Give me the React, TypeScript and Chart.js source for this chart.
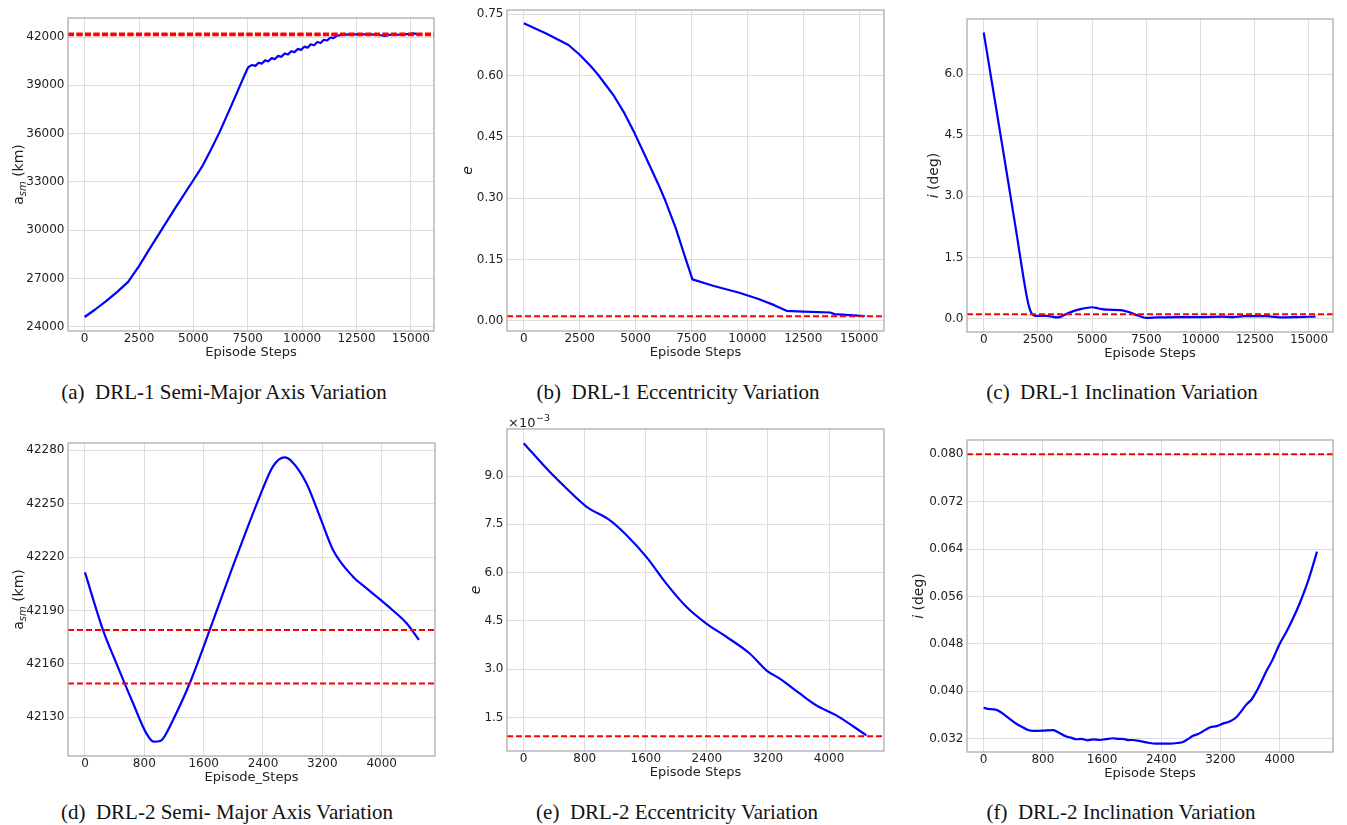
import React, { useEffect, useRef } from "react";
import { Chart, registerables } from "chart.js";

Chart.register(...registerables);

// ---------- (a) DRL-1 semi-major axis ----------
const stepsA = [0, 500, 1000, 1500, 2000, 2500, 3000, 3521, 4200, 4945, 5400, 5800, 6200, 6700, 7149, 7500,
  7560, 7700, 7850, 8000, 8150, 8300, 8450, 8600, 8750, 8900, 9050, 9200, 9350, 9500, 9650, 9800, 9950,
  10100, 10250, 10400, 10550, 10700, 10850, 11000, 11150, 11300, 11450, 11600, 11750, 12000, 12500, 13000,
  13500, 13800, 14000, 14500, 15000, 15100, 15300];
const smaA = [24620, 25100, 25620, 26180, 26800, 27780, 28880, 30000, 31450, 33000, 33950, 34980, 36080, 37600, 39000, 40080,
  40160, 40260, 40210, 40400, 40350, 40550, 40490, 40690, 40630, 40830, 40770, 40980, 40910, 41120, 41060, 41260, 41200,
  41400, 41340, 41550, 41490, 41690, 41630, 41830, 41780, 41970, 41930, 42080, 42120, 42150, 42160, 42160,
  42140, 42060, 42130, 42150, 42200, 42230, 42180];
const thrA = [42149, 42179];

// ---------- (b) DRL-1 eccentricity ----------
const stepsB = [0, 1000, 2000, 2500, 3000, 3324, 4000, 4500, 4964, 5500, 6000, 6300, 6800, 7200, 7543,
  8500, 9600, 10500, 11200, 11750, 12500, 13700, 13900, 15250];
const eccB = [0.728, 0.703, 0.675, 0.651, 0.623, 0.602, 0.553, 0.508, 0.458, 0.395, 0.336, 0.298, 0.226, 0.158, 0.101,
  0.085, 0.069, 0.053, 0.038, 0.024, 0.022, 0.020, 0.016, 0.011];
const thrB = [0.011];

// ---------- (c) DRL-1 inclination ----------
const stepsC = [0, 500, 1000, 1500, 1900, 2050, 2200, 2400, 2900, 3400, 3900, 4500, 5000, 5300, 5700, 6300,
  6700, 7100, 7500, 8000, 9000, 10000, 11000, 11500, 12000, 13000, 13800, 14500, 15300];
const incC = [7.02, 5.40, 3.78, 2.14, 0.80, 0.38, 0.14, 0.07, 0.07, 0.03, 0.14, 0.24, 0.28, 0.25, 0.22, 0.21,
  0.16, 0.08, 0.02, 0.03, 0.04, 0.04, 0.05, 0.04, 0.06, 0.06, 0.03, 0.04, 0.05];
const thrC = [0.11];

// ---------- (d) DRL-2 semi-major axis ----------
const stepsD = [0, 243, 422, 647, 827, 926, 1016, 1052, 1187, 1411, 1681, 1996, 2355, 2535, 2692, 2782,
  2984, 3164, 3344, 3613, 3793, 4153, 4333, 4503];
const smaD = [42211.4, 42179, 42160.4, 42138, 42121, 42116.3, 42116.7, 42118, 42128.5, 42149, 42179, 42215,
  42254, 42271, 42276, 42274, 42261.6, 42243, 42224, 42209, 42202.6, 42190, 42183, 42173.5];
const thrD = [42149, 42179];

// ---------- (e) DRL-2 eccentricity ----------
const stepsE = [0, 341, 559, 821, 1127, 1345, 1607, 1869, 2131, 2393, 2655, 2961, 3179, 3354, 3616, 3834, 4096, 4489];
const eccE = [0.01002, 0.00913, 0.00862, 0.00805, 0.00763, 0.00717, 0.00649, 0.00566, 0.00494, 0.00442, 0.00401,
  0.00349, 0.00297, 0.00271, 0.00225, 0.00188, 0.00157, 0.00095];
const thrE = [0.00092];

// ---------- (f) DRL-2 inclination ----------
const stepsF = [0, 60, 126, 180, 216, 260, 351, 440, 532, 600, 667, 800, 937, 1000, 1117, 1180, 1252, 1320, 1400,
  1480, 1568, 1650, 1748, 1820, 1900, 1960, 2018, 2100, 2200, 2333, 2514, 2620, 2694, 2760, 2829, 2900, 2960, 3054,
  3150, 3250, 3324, 3414, 3480, 3550, 3620, 3685, 3760, 3820, 3900, 4000, 4090, 4180, 4270, 4360, 4430, 4505];
const incF = [0.03722, 0.03700, 0.03693, 0.03680, 0.03658, 0.03620, 0.03532, 0.03450, 0.03388, 0.03345, 0.03331,
  0.03335, 0.03343, 0.03310, 0.03234, 0.03215, 0.03188, 0.03195, 0.03170, 0.03185, 0.03176, 0.03190, 0.03205,
  0.03195, 0.03190, 0.03175, 0.03176, 0.03160, 0.03135, 0.03113, 0.03113, 0.03125, 0.03142, 0.03190, 0.03246,
  0.03275, 0.03320, 0.03388, 0.03410, 0.03460, 0.03486, 0.03560, 0.03660, 0.03773, 0.03860, 0.03992, 0.04180,
  0.04336, 0.04520, 0.04796, 0.05000, 0.05226, 0.05480, 0.05772, 0.06040, 0.06357];
const thrF = [0.08];

// ---------- ticks ----------
const xTicksLong = [0, 2500, 5000, 7500, 10000, 12500, 15000];
const xTicksShort = [0, 800, 1600, 2400, 3200, 4000];
const yTicksA = [24000, 27000, 30000, 33000, 36000, 39000, 42000];
const yTicksB = [0, 0.15, 0.3, 0.45, 0.6, 0.75];
const yTicksC = [0, 1.5, 3, 4.5, 6];
const yTicksD = [42130, 42160, 42190, 42220, 42250, 42280];
const yTicksE = [0.0015, 0.003, 0.0045, 0.006, 0.0075, 0.009];
const yTicksF = [0.032, 0.04, 0.048, 0.056, 0.064, 0.072, 0.08];

const captions = [
  "(a)  DRL-1 Semi-Major Axis Variation",
  "(b)  DRL-1 Eccentricity Variation",
  "(c)  DRL-1 Inclination Variation",
  "(d)  DRL-2 Semi- Major Axis Variation",
  "(e)  DRL-2 Eccentricity Variation",
  "(f)  DRL-2 Inclination Variation",
];

type Part = { t: string; italic?: boolean; sub?: boolean };

const smaTitle: Part[] = [{ t: "a" }, { t: "sm", italic: true, sub: true }, { t: " (km)" }];
const eTitle: Part[] = [{ t: "e", italic: true }];
const iTitle: Part[] = [{ t: "i", italic: true }, { t: " (deg)" }];

const FONT = '"DejaVu Sans", sans-serif';

interface Cfg {
  L: number; T: number; R: number; B: number;
  xMin: number; xMax: number; yMin: number; yMax: number;
  xs: number[]; ys: number[]; thr: number[];
  xTicks: number[]; yTicks: number[];
  fmt: (v: number) => string;
  xTitle: string; yParts: Part[]; yOffset: number;
  thrWidth: number; thrDash: number[];
  smooth: boolean;
  multiplier?: boolean;
}

const panels: Cfg[] = [
  { L: 68, T: 18, R: 434, B: 331, xMin: -765, xMax: 16065, yMin: 23750, yMax: 43180,
    xs: stepsA, ys: smaA, thr: thrA, xTicks: xTicksLong, yTicks: yTicksA, fmt: (v) => String(v),
    xTitle: "Episode Steps", yParts: smaTitle, yOffset: -50, thrWidth: 3.4, thrDash: [6, 2.5], smooth: false },
  { L: 507, T: 10, R: 884, B: 331, xMin: -750, xMax: 16110, yMin: -0.0253, yMax: 0.7606,
    xs: stepsB, ys: eccB, thr: thrB, xTicks: xTicksLong, yTicks: yTicksB, fmt: (v) => v.toFixed(2),
    xTitle: "Episode Steps", yParts: eTitle, yOffset: -40, thrWidth: 2, thrDash: [6, 3], smooth: false },
  { L: 967, T: 19, R: 1333, B: 332, xMin: -770, xMax: 16107, yMin: -0.327, yMax: 7.35,
    xs: stepsC, ys: incC, thr: thrC, xTicks: xTicksLong, yTicks: yTicksC, fmt: (v) => v.toFixed(1),
    xTitle: "Episode Steps", yParts: iTitle, yOffset: -34, thrWidth: 2, thrDash: [6, 3], smooth: true },
  { L: 68, T: 443, R: 435, B: 756, xMin: -229, xMax: 4719, yMin: 42108.25, yMax: 42284.1,
    xs: stepsD, ys: smaD, thr: thrD, xTicks: xTicksShort, yTicks: yTicksD, fmt: (v) => String(v),
    xTitle: "Episode_Steps", yParts: smaTitle, yOffset: -50, thrWidth: 2, thrDash: [6, 3], smooth: true },
  { L: 507, T: 429, R: 884, B: 751, xMin: -218, xMax: 4720, yMin: 0.000464, yMax: 0.01046,
    xs: stepsE, ys: eccE, thr: thrE, xTicks: xTicksShort, yTicks: yTicksE, fmt: (v) => (v * 1000).toFixed(1),
    xTitle: "Episode Steps", yParts: eTitle, yOffset: -32, thrWidth: 2, thrDash: [6, 3], smooth: true, multiplier: true },
  { L: 967, T: 440, R: 1333, B: 752, xMin: -225, xMax: 4721, yMin: 0.02973, yMax: 0.08241,
    xs: stepsF, ys: incF, thr: thrF, xTicks: xTicksShort, yTicks: yTicksF, fmt: (v) => v.toFixed(3),
    xTitle: "Episode Steps", yParts: iTitle, yOffset: -49, thrWidth: 2, thrDash: [6, 3], smooth: true },
];

const PAD_L = 68, PAD_T = 18, PAD_R = 10, PAD_B = 40;

const decorPlugin = {
  id: "decor",
  afterDraw(chart: any, _args: any, opts: any) {
    const { ctx, chartArea: a } = chart;
    ctx.save();
    ctx.strokeStyle = "#a6a6a6";
    ctx.lineWidth = 1.2;
    ctx.strokeRect(a.left, a.top, a.right - a.left, a.bottom - a.top);

    ctx.fillStyle = "#222";
    ctx.font = `13px ${FONT}`;
    ctx.textAlign = "center";
    ctx.textBaseline = "middle";
    ctx.fillText(opts.xTitle, (a.left + a.right) / 2, a.bottom + 22);

    if (opts.multiplier) {
      ctx.textAlign = "left";
      ctx.textBaseline = "alphabetic";
      ctx.font = `13px ${FONT}`;
      const x0 = a.left + 1;
      ctx.fillText("×10", x0, a.top - 2);
      const w = ctx.measureText("×10").width;
      ctx.font = `9.5px ${FONT}`;
      ctx.fillText("−3", x0 + w + 0.5, a.top - 8);
    }

    // y title (rotated, supports italic/subscript parts)
    const parts: Part[] = opts.yParts;
    ctx.translate(a.left + opts.yOffset, (a.top + a.bottom) / 2);
    ctx.rotate(-Math.PI / 2);
    ctx.textAlign = "left";
    ctx.textBaseline = "alphabetic";
    const fonts = parts.map((p) => `${p.italic ? "italic " : ""}${p.sub ? 10 : 14}px ${FONT}`);
    const widths = parts.map((p, i) => {
      ctx.font = fonts[i];
      return ctx.measureText(p.t).width;
    });
    const total = widths.reduce((s, w) => s + w, 0);
    let x = -total / 2;
    parts.forEach((p, i) => {
      ctx.font = fonts[i];
      ctx.fillText(p.t, x, p.sub ? 7.5 : 5);
      x += widths[i];
    });
    ctx.restore();
  },
};

function Panel({ cfg }: { cfg: Cfg }) {
  const ref = useRef<HTMLCanvasElement>(null);
  const width = cfg.R - cfg.L + PAD_L + PAD_R;
  const height = cfg.B - cfg.T + PAD_T + PAD_B;

  useEffect(() => {
    if (!ref.current) return;
    const datasets: any[] = cfg.thr.map((v) => ({
      data: [{ x: cfg.xMin, y: v }, { x: cfg.xMax, y: v }],
      borderColor: "#ff0000",
      borderWidth: cfg.thrWidth,
      borderDash: cfg.thrDash,
      pointRadius: 0,
      tension: 0,
    }));
    const blue: any = {
      data: cfg.xs.map((x, i) => ({ x, y: cfg.ys[i] })),
      borderColor: "#0000ff",
      borderWidth: 2.2,
      pointRadius: 0,
      borderJoinStyle: "round",
      tension: 0,
    };
    if (cfg.smooth) blue.cubicInterpolationMode = "monotone";
    datasets.push(blue);

    const chart = new Chart(ref.current, {
      type: "line",
      data: { datasets },
      options: {
        animation: false,
        responsive: false,
        devicePixelRatio: 1,
        events: [],
        layout: { padding: { left: 0, top: PAD_T, right: PAD_R, bottom: 0 } },
        plugins: {
          legend: { display: false },
          tooltip: { enabled: false },
          decor: { xTitle: cfg.xTitle, yParts: cfg.yParts, yOffset: cfg.yOffset, multiplier: !!cfg.multiplier },
        } as any,
        scales: {
          x: {
            type: "linear",
            min: cfg.xMin,
            max: cfg.xMax,
            afterBuildTicks: (axis: any) => {
              axis.ticks = cfg.xTicks.map((v) => ({ value: v }));
            },
            afterFit: (axis: any) => {
              axis.height = PAD_B;
            },
            grid: { color: "#dddddd", lineWidth: 1, drawTicks: false },
            border: { display: false },
            ticks: {
              padding: 1,
              maxRotation: 0,
              autoSkip: false,
              color: "#222",
              font: { family: FONT, size: 12 },
              callback: (v: any) => String(v),
            },
          },
          y: {
            type: "linear",
            min: cfg.yMin,
            max: cfg.yMax,
            afterBuildTicks: (axis: any) => {
              axis.ticks = cfg.yTicks.map((v) => ({ value: v }));
            },
            afterFit: (axis: any) => {
              axis.width = PAD_L;
            },
            grid: { color: "#dddddd", lineWidth: 1, drawTicks: false },
            border: { display: false },
            ticks: {
              padding: 3.5,
              autoSkip: false,
              color: "#222",
              font: { family: FONT, size: 12 },
              callback: (v: any) => cfg.fmt(Number(v)),
            },
          },
        },
      },
      plugins: [decorPlugin],
    });
    return () => chart.destroy();
  }, [cfg]);

  return (
    <canvas
      ref={ref}
      width={width}
      height={height}
      style={{
        position: "absolute",
        left: cfg.L - PAD_L,
        top: cfg.T - PAD_T,
        width,
        height,
      }}
    />
  );
}

const captionPos = [
  { cx: 224, cy: 392 },
  { cx: 678, cy: 392 },
  { cx: 1122, cy: 392 },
  { cx: 227, cy: 812 },
  { cx: 677, cy: 812 },
  { cx: 1121, cy: 812 },
];

export default function App() {
  return (
    <div
      style={{
        position: "absolute",
        left: 0,
        top: 0,
        width: 1347,
        height: 825,
        background: "#ffffff",
        overflow: "hidden",
      }}
    >
      {panels.map((p, i) => (
        <Panel key={i} cfg={p} />
      ))}
      {captions.map((c, i) => (
        <div
          key={"c" + i}
          style={{
            position: "absolute",
            left: captionPos[i].cx - 250,
            top: captionPos[i].cy - 12,
            width: 500,
            height: 24,
            lineHeight: "24px",
            textAlign: "center",
            fontFamily: '"Liberation Serif", "Times New Roman", serif',
            fontSize: 21,
            color: "#111",
            whiteSpace: "pre",
          }}
        >
          {c}
        </div>
      ))}
    </div>
  );
}
